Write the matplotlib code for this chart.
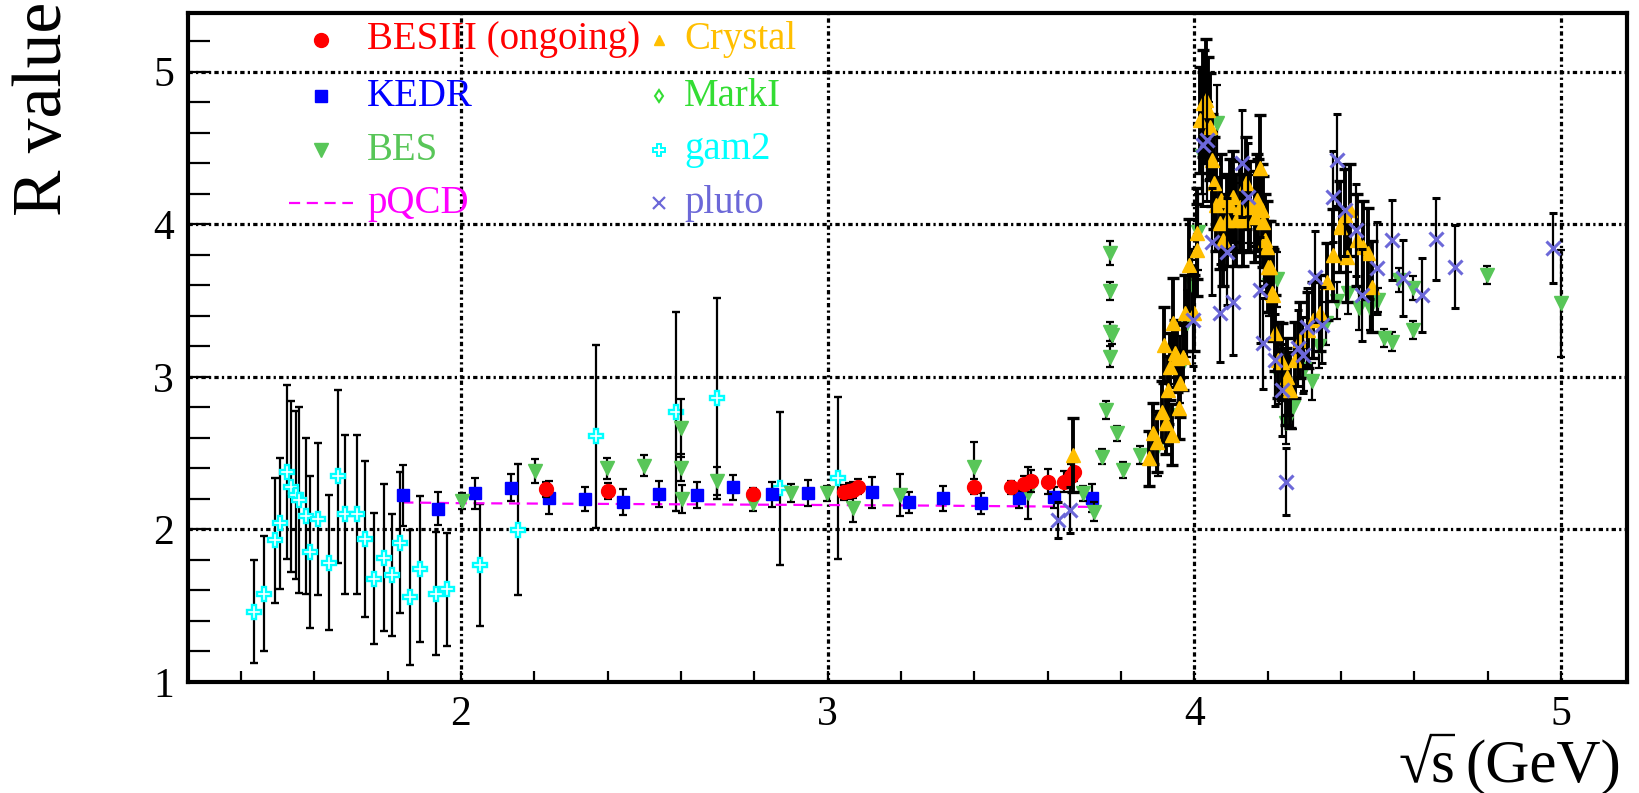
import matplotlib
matplotlib.use("Agg")
import matplotlib.pyplot as plt
from matplotlib.lines import Line2D
from matplotlib.ticker import MultipleLocator
from matplotlib.textpath import TextPath
from matplotlib.font_manager import FontProperties

plt.rcParams['font.family'] = ['Liberation Serif', 'DejaVu Serif']

# ---------------- data ----------------
# gam2
gam2_x = [1.435, 1.464, 1.492, 1.506, 1.526, 1.537, 1.550, 1.557, 1.578, 1.589, 1.609, 1.639,
          1.665, 1.685, 1.716, 1.739, 1.764, 1.791, 1.812, 1.835, 1.860, 1.888, 1.932, 1.961,
          2.053, 2.155, 2.368, 2.586, 2.697, 2.870, 3.029]
gam2_y = [1.462, 1.580, 1.929, 2.039, 2.377, 2.279, 2.224, 2.191, 2.089, 1.853, 2.067, 1.783,
          2.347, 2.098, 2.098, 1.936, 1.678, 1.816, 1.700, 1.914, 1.554, 1.740, 1.580, 1.609,
          1.766, 1.997, 2.612, 2.772, 2.859, 2.270, 2.335]
gam2_err = [0.34, 0.38, 0.41, 0.43, 0.57, 0.56, 0.55, 0.61, 0.51, 0.50, 0.50, 0.44,
            0.57, 0.52, 0.52, 0.51, 0.43, 0.48, 0.40, 0.46, 0.44, 0.48, 0.40, 0.37,
            0.40, 0.43, 0.60, 0.65, 0.66, 0.50, 0.53]

# KEDR
kedr_x = [1.841, 1.937, 2.038, 2.137, 2.241, 2.338, 2.443, 2.541, 2.643, 2.743, 2.849, 2.947,
          3.120, 3.222, 3.314, 3.417, 3.522, 3.617, 3.720]
kedr_y = [2.224, 2.137, 2.237, 2.274, 2.209, 2.200, 2.178, 2.230, 2.226, 2.276, 2.230, 2.237,
          2.243, 2.178, 2.204, 2.171, 2.208, 2.210, 2.205]
kedr_err = [0.20, 0.11, 0.10, 0.09, 0.11, 0.08, 0.085, 0.085, 0.085, 0.083, 0.08, 0.085,
            0.10, 0.07, 0.08, 0.07, 0.065, 0.07, 0.09]

# BESIII (ongoing)
besiii_x = [2.232, 2.400, 2.797, 3.045, 3.059, 3.070, 3.082, 3.400, 3.501, 3.535, 3.555,
            3.600, 3.645, 3.663, 3.671]
besiii_y = [2.263, 2.252, 2.230, 2.243, 2.252, 2.259, 2.280, 2.280, 2.275, 2.300, 2.318,
            2.313, 2.313, 2.350, 2.379]
besiii_err = [0.05, 0.05, 0.04, 0.05, 0.05, 0.05, 0.05, 0.05, 0.04, 0.05, 0.07,
              0.08, 0.07, 0.08, 0.06]

# BES
bes_x = [2.002, 2.202, 2.397, 2.499, 2.599, 2.599, 2.602, 2.699, 2.797, 2.900, 2.997, 3.070,
         3.197, 3.400, 3.547, 3.697, 3.726, 3.749, 3.758, 3.770, 3.770, 3.770, 3.775, 3.770,
         3.788, 3.806, 3.851,
         3.900, 3.930, 3.960, 3.980, 3.995, 4.010, 4.020, 4.040, 4.063, 4.080, 4.110, 4.150,
         4.190, 4.205, 4.225, 4.230, 4.251, 4.270, 4.300, 4.320, 4.340, 4.360, 4.388, 4.420,
         4.450, 4.480,
         4.502, 4.516, 4.538, 4.559, 4.597, 4.597, 4.799, 4.999]
bes_y = [2.187, 2.384, 2.400, 2.418, 2.663, 2.405, 2.200, 2.318, 2.171, 2.237, 2.237, 2.138,
         2.226, 2.411, 2.240, 2.237, 2.117, 2.478, 2.783, 3.810, 3.561, 3.297, 3.275, 3.133,
         2.630, 2.390, 2.489,
         2.550, 2.750, 3.050, 3.350, 3.600, 3.950, 4.450, 4.550, 4.662, 3.950, 4.050, 4.100,
         3.850, 3.600, 3.640, 3.000, 2.700, 2.800, 3.050, 2.970, 3.200, 3.350, 3.500, 3.550,
         3.450, 3.450,
         3.504, 3.253, 3.231, 3.635, 3.581, 3.308, 3.668, 3.483]
bes_err = [0.05, 0.08, 0.07, 0.07, 0.19, 0.09, 0.09, 0.09, 0.05, 0.06, 0.05, 0.09,
           0.14, 0.16, 0.17, 0.05, 0.06, 0.05, 0.06, 0.08, 0.06, 0.06, 0.06, 0.07,
           0.05, 0.05, 0.06,
           0.20, 0.20, 0.22, 0.22, 0.24, 0.25, 0.25, 0.25, 0.25, 0.22, 0.22, 0.22,
           0.22, 0.20, 0.18, 0.18, 0.14, 0.14, 0.14, 0.12, 0.14, 0.14, 0.12, 0.14,
           0.14, 0.14,
           0.08, 0.06, 0.06, 0.08, 0.08, 0.06, 0.06, 0.35]

# Crystal
crystal_x = [3.670, 3.877, 3.888, 3.897, 3.911, 3.917, 3.924, 3.929, 3.933, 3.938, 3.942, 3.947,
             3.953, 3.959, 3.961, 3.970, 3.974, 3.986, 3.999, 4.006, 4.006, 4.015, 4.024, 4.033,
             4.038, 4.042, 4.047, 4.053, 4.060, 4.070, 4.074, 4.079, 4.088, 4.097, 4.106, 4.115,
             4.124, 4.133, 4.142, 4.151, 4.165, 4.170, 4.174, 4.179, 4.184, 4.186, 4.193, 4.197,
             4.202, 4.206, 4.211, 4.215, 4.220, 4.229, 4.238, 4.251, 4.252, 4.261, 4.275, 4.288,
             4.311, 4.325, 4.343, 4.361, 4.379, 4.397, 4.411, 4.416, 4.425, 4.443, 4.461, 4.475,
             4.484]
crystal_y = [2.488, 2.467, 2.630, 2.576, 2.772, 3.209, 2.696, 2.914, 3.067, 2.620, 3.351, 3.155,
             3.122, 2.794, 2.958, 3.133, 3.417, 3.734, 3.417, 3.832, 3.941, 4.684, 4.793, 4.815,
             4.749, 4.640, 4.421, 4.269, 4.127, 4.007, 4.159, 3.897, 4.028, 4.127, 4.181, 4.028,
             4.116, 4.028, 4.269, 4.116, 4.050, 4.160, 4.127, 4.367, 4.094, 4.018, 3.898, 3.854,
             3.723, 3.723, 3.548, 3.537, 3.286, 3.111, 3.100, 2.936, 3.002, 2.915, 3.111, 3.242,
             3.308, 3.373, 3.417, 3.625, 3.799, 3.985, 4.061, 3.788, 4.094, 3.898, 3.854, 3.810,
             3.592]
crystal_err = [0.24, 0.18, 0.20, 0.20, 0.20, 0.25, 0.20, 0.22, 0.22, 0.20, 0.30, 0.22,
               0.22, 0.20, 0.22, 0.22, 0.25, 0.30, 0.25, 0.30, 0.30, 0.35, 0.35, 0.40,
               0.35, 0.35, 0.30, 0.30, 0.30, 0.30, 0.30, 0.30, 0.30, 0.30, 0.30, 0.30,
               0.30, 0.30, 0.30, 0.30, 0.30, 0.30, 0.30, 0.35, 0.30, 0.30, 0.30, 0.30,
               0.30, 0.30, 0.30, 0.30, 0.25, 0.25, 0.25, 0.25, 0.25, 0.25, 0.25, 0.25,
               0.25, 0.25, 0.25, 0.25, 0.30, 0.30, 0.30, 0.30, 0.30, 0.30, 0.30, 0.30,
               0.30]

# pluto
pluto_x = [3.629, 3.661, 3.997, 4.024, 4.035, 4.047, 4.070, 4.088, 4.106, 4.129, 4.147, 4.179,
           4.186, 4.220, 4.238, 4.250, 4.284, 4.297, 4.307, 4.329, 4.347, 4.379, 4.388, 4.411,
           4.441, 4.457, 4.497, 4.538, 4.570, 4.620, 4.659, 4.711, 4.979]
pluto_y = [2.063, 2.128, 3.373, 4.520, 4.550, 3.886, 3.417, 3.821, 3.493, 4.400, 4.181, 3.570,
           3.220, 3.111, 2.915, 2.314, 3.188, 3.144, 3.330, 3.657, 3.341, 4.182, 4.422, 4.094,
           3.963, 3.537, 3.712, 3.898, 3.646, 3.537, 3.902, 3.723, 3.843]
pluto_err = [0.12, 0.15, 0.30, 0.40, 0.40, 0.35, 0.32, 0.35, 0.35, 0.35, 0.35, 0.35,
             0.30, 0.30, 0.30, 0.22, 0.25, 0.25, 0.25, 0.30, 0.25, 0.30, 0.30, 0.30,
             0.30, 0.30, 0.30, 0.26, 0.25, 0.24, 0.27, 0.27, 0.23]

# pQCD prediction
pqcd_x = [1.84, 2.0, 2.5, 3.0, 3.3, 3.5, 3.72]
pqcd_y = [2.177, 2.172, 2.166, 2.160, 2.156, 2.152, 2.148]

# ---------------- styling ----------------
c_besiii = '#ff0000'
c_kedr = '#0000ff'
c_bes = '#58c658'
c_crystal = '#ffbf00'
c_marki = '#33dd33'
c_gam2 = '#00ffff'
c_pluto = '#6c68d8'
c_pqcd = '#ff00ff'

W, H = 1640, 793
fig = plt.figure(figsize=(W / 100, H / 100), dpi=100)
ax = fig.add_axes([188 / W, (H - 682) / H, (1627 - 188) / W, (682 - 12.7) / H])
ax.set_xlim(1.2555, 5.18)
ax.set_ylim(1.0, 5.387)

eb = dict(ecolor='black', elinewidth=1.6, capsize=2.8, capthick=1.6, linestyle='none')
eb_dense = dict(ecolor='black', elinewidth=2.8, capsize=4.0, capthick=2.4, linestyle='none')

ax.errorbar(gam2_x, gam2_y, yerr=gam2_err, marker='P', ms=9.5, mfc='white', mec=c_gam2,
            mew=1.7, zorder=3, **eb)
ax.plot(pqcd_x, pqcd_y, color=c_pqcd, lw=1.6, linestyle=(0, (5, 3)), zorder=3.5)
ax.errorbar(kedr_x, kedr_y, yerr=kedr_err, marker='s', ms=8, color=c_kedr, mec=c_kedr,
            zorder=4, **eb)
ax.errorbar(bes_x, bes_y, yerr=bes_err, marker='v', ms=10, color=c_bes, mec=c_bes,
            zorder=5, **eb)
ax.errorbar(besiii_x, besiii_y, yerr=besiii_err, marker='o', ms=10, color=c_besiii,
            mec=c_besiii, zorder=6, **eb)
ax.errorbar(crystal_x, crystal_y, yerr=crystal_err, marker='^', ms=10, color=c_crystal,
            mec=c_crystal, zorder=7, **eb_dense)
ax.errorbar(pluto_x, pluto_y, yerr=pluto_err, marker='x', ms=10.5, color=c_pluto, mec=c_pluto,
            mew=2.2, zorder=8, **eb)

# axes frame, ticks and grid
for s in ax.spines.values():
    s.set_linewidth(3)
ax.xaxis.set_major_locator(MultipleLocator(1))
ax.xaxis.set_minor_locator(MultipleLocator(0.2))
ax.yaxis.set_major_locator(MultipleLocator(1))
ax.yaxis.set_minor_locator(MultipleLocator(0.2))
ax.tick_params(axis='y', which='both', direction='in', length=16, width=1.6,
               right=False, labelsize=30, pad=10)
ax.tick_params(axis='x', which='both', direction='in', length=8, width=1.6,
               top=False, labelsize=30, pad=10)
ax.grid(True, which='major', color='black', lw=2.3, linestyle=(0, (1.35, 1.0, 0.7, 1.0)))
ax.set_axisbelow(True)

# y-axis title
fig.text(44 / W, 1 - 2 / H, 'R value', rotation=90, ha='center', va='top', fontsize=50)

# x-axis title: radical sign, s with a vinculum, then the unit
renderer = fig.canvas.get_renderer()
fs = 44
base_px = H - 782
t_unit = fig.text(1621 / W, base_px / H, '(GeV)', ha='right', va='baseline', fontsize=fs)
bb_unit = t_unit.get_window_extent(renderer)
t_s = fig.text((bb_unit.x0 - 11) / W, base_px / H, 's', ha='right', va='baseline', fontsize=fs)
bb_s = t_s.get_window_extent(renderer)
root_ext = TextPath((0, 0), '\u221a', size=fs * 100 / 72,
                    prop=FontProperties(family='Liberation Serif')).get_extents()
root_x0 = bb_s.x0 - root_ext.x1 + 2
fig.text(root_x0 / W, base_px / H, '\u221a', ha='left', va='baseline', fontsize=fs)
bar_y = base_px + root_ext.y1 - 1.2
fig.add_artist(Line2D([(root_x0 + root_ext.x1 - 2) / W, (bb_s.x1 + 1) / W],
                      [bar_y / H, bar_y / H], color='black', lw=1.7, solid_capstyle='butt'))

# legend
rows = [40, 96, 150, 203]
col1_m, col1_t = 321, 367
col2_m, col2_t = 659, 684


def fy(py):
    return 1 - py / H


def fx(px):
    return px / W


entries_left = [
    ('BESIII (ongoing)', c_besiii, dict(marker='o', ms=10, color=c_besiii, mec=c_besiii)),
    ('KEDR', c_kedr, dict(marker='s', ms=8, color=c_kedr, mec=c_kedr)),
    ('BES', c_bes, dict(marker='v', ms=10, color=c_bes, mec=c_bes)),
]
entries_right = [
    ('Crystal', c_crystal, dict(marker='^', ms=7, color=c_crystal, mec=c_crystal)),
    ('MarkI', c_marki, dict(marker='d', ms=6.5, mfc='white', mec=c_marki, mew=1.5)),
    ('gam2', c_gam2, dict(marker='P', ms=8, mfc='white', mec=c_gam2, mew=1.4)),
    ('pluto', c_pluto, dict(marker='x', ms=8, color=c_pluto, mec=c_pluto, mew=1.6)),
]
for i, (lab, col, mk) in enumerate(entries_left):
    fig.add_artist(Line2D([fx(col1_m)], [fy(rows[i])], linestyle='none', **mk))
    fig.text(fx(col1_t), fy(rows[i]), lab, color=col, fontsize=28, ha='left', va='center')
fig.add_artist(Line2D([fx(289), fx(353)], [fy(rows[3]), fy(rows[3])], color=c_pqcd, lw=1.6,
                      linestyle=(0, (5, 3))))
fig.text(fx(col1_t), fy(rows[3]), 'pQCD', color=c_pqcd, fontsize=28, ha='left', va='center')
for i, (lab, col, mk) in enumerate(entries_right):
    fig.add_artist(Line2D([fx(col2_m)], [fy(rows[i])], linestyle='none', **mk))
    fig.text(fx(col2_t), fy(rows[i]), lab, color=col, fontsize=28, ha='left', va='center')

fig.savefig('out.png', dpi=100)
